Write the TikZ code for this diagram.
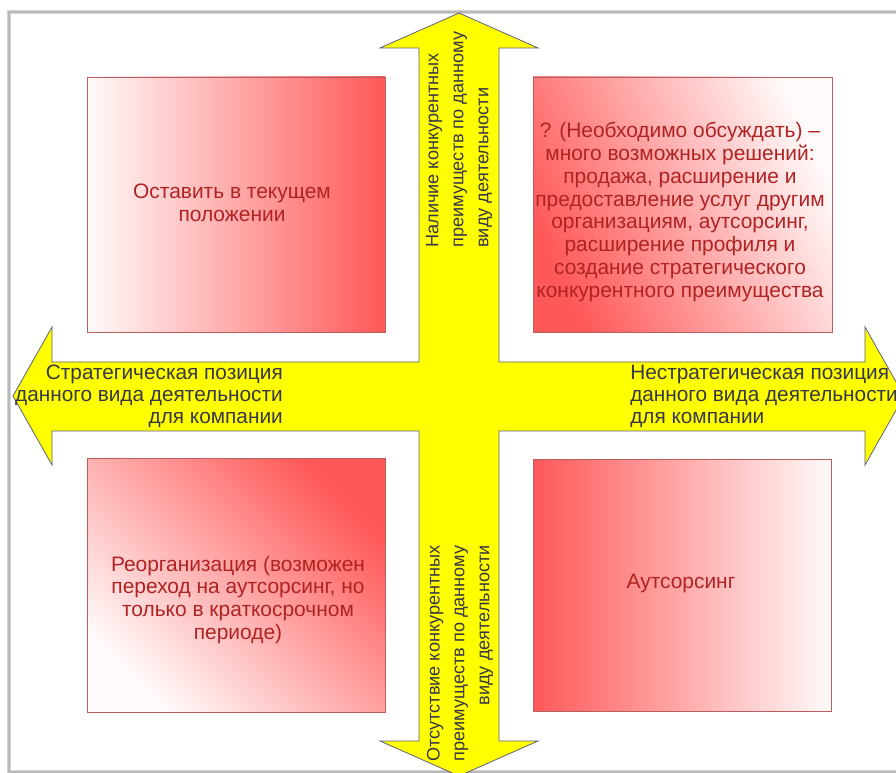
\documentclass[tikz,border=0pt]{standalone}
\usepackage{fontspec}
\setmainfont{Liberation Sans}
\definecolor{arrowyellow}{RGB}{255,255,0}
\definecolor{arrowedge}{RGB}{95,95,125}
\definecolor{sqred}{RGB}{255,88,88}
\definecolor{sqwhite}{RGB}{255,250,250}
\definecolor{sqedge}{RGB}{185,95,95}
\definecolor{sqtext}{RGB}{175,35,35}
\definecolor{lbltext}{RGB}{55,55,70}
\definecolor{framegray}{RGB}{185,185,185}
\begin{document}
\begin{tikzpicture}[x=0.75pt,y=-0.75pt,
  sqbox/.style={draw=sqedge, line width=0.6pt, inner sep=0pt},
  sqlabel/.style={text=sqtext, font=\fontsize{15.7}{17.2}\selectfont, align=center, inner sep=0pt},
  axlabel/.style={text=lbltext, font=\fontsize{15.6}{16.5}\selectfont, inner sep=0pt},
  vlabel/.style={axlabel, font=\fontsize{13.6}{18.7}\selectfont, rotate=90}
]
\useasboundingbox (0,0) rectangle (896,773);
\fill[white] (0,0) rectangle (896,773);
% frame
\draw[framegray!60, line width=3pt] (9,12) rectangle (930,772);
\draw[framegray, line width=1pt] (9,12) rectangle (930,772);

% squares
\node[sqbox, minimum width=223.5pt, minimum height=191.25pt,
  left color=sqwhite, right color=sqred] (tl) at (236,204.5) {};
\node[sqbox, minimum width=224.25pt, minimum height=191.25pt,
  top color=sqred, bottom color=sqwhite, shading angle=115] (tr) at (682.5,204.5) {};
\node[sqbox, minimum width=223.5pt, minimum height=190pt,
  top color=sqred, bottom color=sqwhite, shading angle=-45] (bl) at (236,585.5) {};
\node[sqbox, minimum width=223.5pt, minimum height=189pt,
  left color=sqred, right color=sqwhite] (br) at (682,585) {};

% yellow cross of arrows
\draw[fill=arrowyellow, draw=arrowedge, line width=0.6pt, line join=miter]
  (459,13) -- (538,48) -- (499,48) -- (499,362) -- (865,362) -- (865,327)
  -- (904,396) -- (865,465) -- (865,431) -- (499,431) -- (499,741)
  -- (538,741) -- (459,776) -- (380,741) -- (419,741) -- (419,431)
  -- (52,431) -- (52,465) -- (13,396) -- (52,327) -- (52,362)
  -- (419,362) -- (419,48) -- (380,48) -- cycle;

% axis labels
\node[axlabel, align=right, anchor=east] (lft) at (283,396)
  {Стратегическая позиция\\данного вида деятельности\\для компании};
\node[axlabel, align=left, anchor=west] (rgt) at (630,396)
  {Нестратегическая позиция\\данного вида деятельности\\для компании};
\node[vlabel, align=left, anchor=west] (top) at (459,248)
  {Наличие конкурентных\\преимуществ по данному\\виду деятельности};
\node[vlabel, align=right, anchor=east] (bot) at (460,545)
  {Отсутствие конкурентных\\преимуществ по данному\\виду деятельности};

% square texts
\node[sqlabel] (tltext) at (232,203) {Оставить в текущем\\положении};
\node[sqlabel] (trtext) at (680,212) {? (Необходимо обсуждать) –\\много возможных решений:\\продажа, расширение и\\предоставление услуг другим\\организациям, аутсорсинг,\\расширение профиля и\\создание стратегического\\конкурентного преимущества};
\node[sqlabel] (bltext) at (238,600) {Реорганизация (возможен\\переход на аутсорсинг, но\\только в краткосрочном\\периоде)};
\node[sqlabel] (brtext) at (681,583) {Аутсорсинг};
\end{tikzpicture}
\end{document}
